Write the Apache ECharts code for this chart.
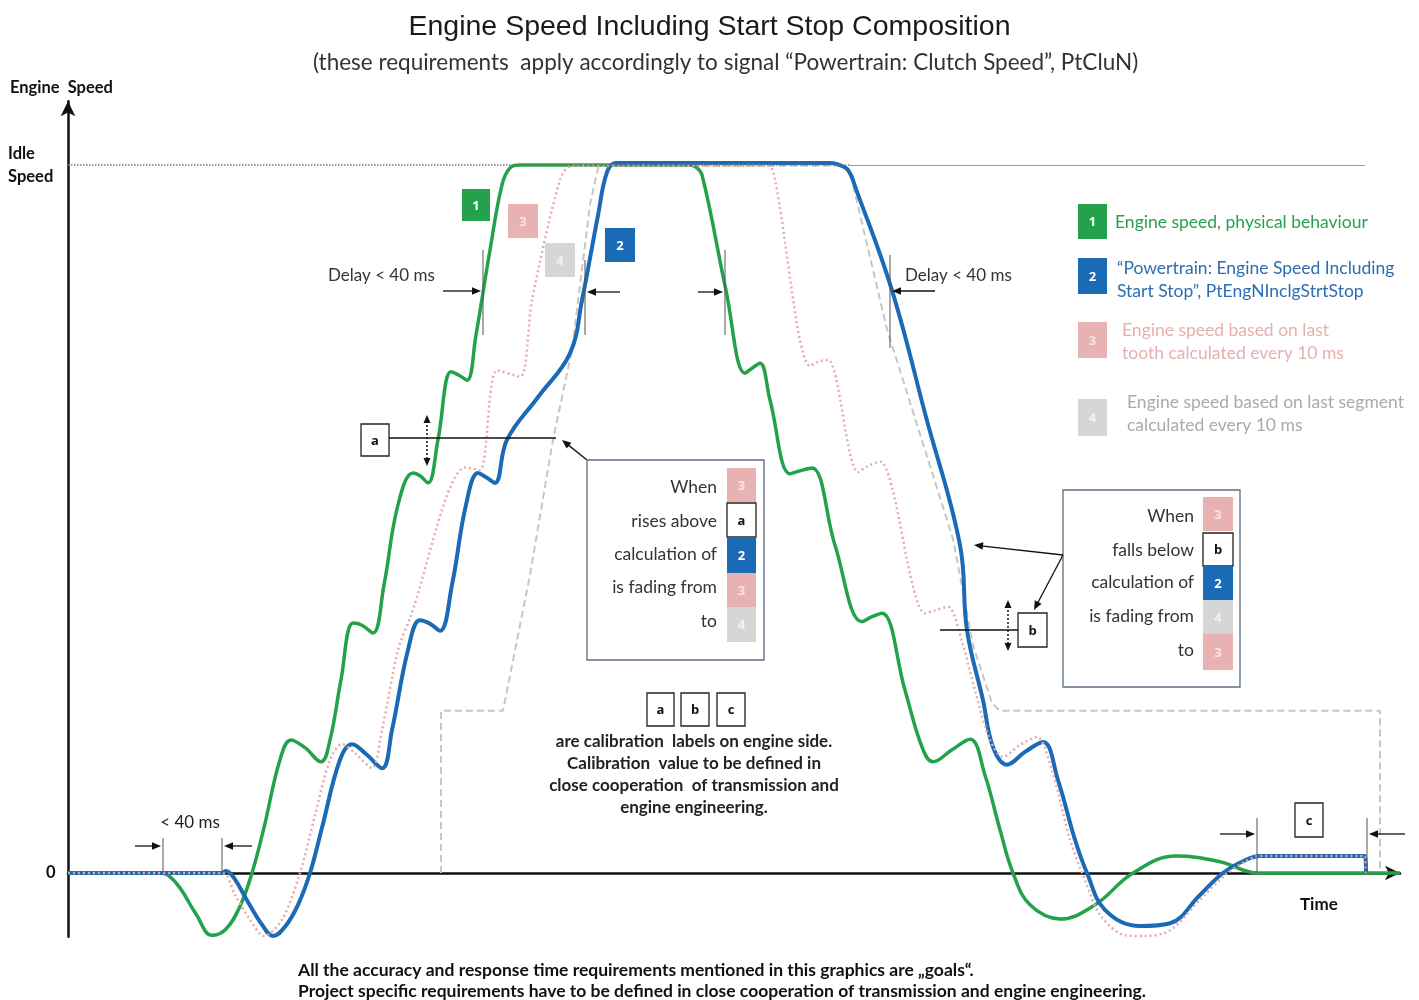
<!DOCTYPE html>
<html><head><meta charset="utf-8">
<script src="https://cdn.jsdelivr.net/npm/echarts@6/dist/echarts.min.js"></script>
<style>html,body{margin:0;padding:0;background:#fff}#c{width:1419px;height:1000px}</style>
</head><body><div id="c"></div>
<script>
// ---------- DATA (x: time in ms, y: engine speed in % of idle speed) ----------
const seriesNames = ['1', '2', '3', '4'];
const legendLabels = [
  ['Engine speed, physical behaviour'],
  ['\u201cPowertrain: Engine Speed Including', 'Start Stop\u201d, PtEngNInclgStrtStop'],
  ['Engine speed based on last', 'tooth calculated every 10 ms'],
  ['Engine speed based on last segment', 'calculated every 10 ms']
];
const yTickValues = [0, 100];
const yTickLabels = ['0', 'Idle\nSpeed'];
const idleSpeed = 100;

const greenPhysical = [
  [0,0],[36.8,0],[40,-0.3],[44.8,-2.1],[51.2,-5.8],[57.6,-8.8],[63.2,-7.9],[68.8,-4.7],[73.6,0],[78.4,6.4],
  [84.8,16.0],[89.2,18.8],[94.8,17.7],[101.2,15.7],[104.8,18.8],[109.2,27.3],[114,35.3],[117.6,35.0],[122,33.9],
  [126.4,40.7],[132,52.0],[138,56.5],[140.8,56.1],[144,55.1],[148,61.2],[153.2,70.8],[156.4,70.3],
  [159.6,69.6],[163.2,76.0],[168.8,88.0],[173.6,97.2],[176.8,99.6],[180.8,100],[248,100],[250.8,99.8],[253.6,98.6],
  [263.2,82.3],[270.8,70.6],[273.6,71.3],[276.8,72.0],[280.8,66.8],[288.8,56.4],[292.8,56.8],[297.6,57.2],
  [306.8,46.3],[317.6,35.5],[321.6,36.2],[325.6,36.7],[334.8,25.8],[341.6,17.8],[346,15.7],[353.6,17.4],
  [360.8,18.9],[366.8,13.8],[372.8,6.1],[378,0],[384.8,-4.5],[396.8,-6.5],[410.8,-4.5],[426,0],
  [443.2,2.4],[460.8,1.6],[476,0],[532.8,0]
];
const blueInclStartStop = [
  [0,0],[61.6,0],[63.2,0.3],[66.4,-0.7],[72,-4.1],[77.6,-7.3],[82,-8.9],[86.8,-7.6],[92,-4.5],[96.8,0],[101.6,6.4],
  [108.8,16.0],[113.6,18.2],[119.2,16.8],[125.6,14.8],[129.6,20.2],[136,31.5],[140.8,35.7],[144.8,35.2],[148.8,34.2],
  [153.6,40.7],[159.2,52.0],[164,56.5],[167.2,55.9],[170.8,55.1],[175.6,61.2],[188.2,67.3],[200.8,73.4],[205.6,80.9],
  [212,92.9],[215.6,99.0],[219.2,100.3],[305,100.3],[308,100.1],[312,99.3],[315.2,96.6],[329.6,82.3],[343.2,64.4],[356.8,46.3],[359.6,34.3],
  [366,24.4],[370,17.8],[375.6,15.3],[382.8,17.1],[390,18.5],[396,13.1],[402.8,4.7],[407.6,0],
  [414.8,-5.2],[428.8,-7.5],[440.8,-7.1],[452.8,-3.1],[462,0],[470.8,1.8],[476.8,2.4],[516,2.4],[518.8,2.4],[519.2,0]
];
const pinkLastTooth = [
  [0,0],[61.6,0],[66.8,-3.1],[72.8,-6.6],[78.4,-8.9],[85.6,-6.6],[92.8,0],[98.8,8.2],[104.8,16.0],
  [109.6,18.2],[115.2,16.8],[121.6,14.8],[125.6,20.2],[132,31.5],[136.8,36.0],[159.2,57.3],[164.8,56.9],
  [171.6,71.0],[180.8,70.1],[185.6,80.9],[196.8,97.9],[201.6,99.9],[280,99.9],[282.8,97.9],[296.8,71.6],
  [300,72.2],[304,72.5],[316,56.6],[320,57.5],[324.8,58.1],[342.8,36.7],[346.8,37.1],[352,37.6],
  [358,32.2],[362.8,25.8],[368.8,18.8],[374,16.4],[380.8,18.1],[387.6,19.2],[393.6,14.5],[400.8,4.7],
  [406.8,-1.0],[412.8,-5.9],[422.8,-8.8],[430.8,-8.9],[440.8,-8.1],[452.8,-3.8],[462.8,-0.3],[470.8,1.6],
  [476.8,2.4],[516,2.4],[518.8,2.4],[519.2,0]
];
const grayLastSegment = [
  [149.2,0],[149.2,22.9],[174,22.9],[184.8,42.1],[194,61.2],[201.6,73.9],[208.8,94.4],[212,99.6],
  [214.8,99.9],[310.8,99.9],[312.8,99.0],[327.6,76.8],[354,47.2],[362,32.2],[369.6,24.0],[372.8,22.9],
  [524.8,22.9],[524.8,0]
];

// ---------- STYLE ----------
const GREEN = '#24a24b', BLUE = '#1a6ab6', PINK = '#e8b2b2', GRAY = '#d6d6d6';
const PINKLINE = '#e7a9a9', GRAYLINE = '#c6c6c6';
const LATO = 'Lato, "Open Sans", sans-serif';

const els = [];
function txt(x, y, s, o) {
  o = o || {};
  els.push({type: 'text', z: 100, style: {
    x: x, y: y, text: s, fill: o.color || '#333',
    fontFamily: o.family || LATO, fontSize: o.size || 17, fontWeight: o.weight || 'normal',
    textAlign: o.align || 'left', align: o.align || 'left',
    textVerticalAlign: 'middle', verticalAlign: 'middle'
  }});
}
function rect(x, y, w, h, fill, stroke, lw) {
  els.push({type: 'rect', z: 99, shape: {x: x, y: y, width: w, height: h},
    style: {fill: fill || 'none', stroke: stroke || null, lineWidth: lw || 1}});
}
function sq(x, y, w, h, fill, label, tcolor, stroke) {
  rect(x, y, w, h, fill, stroke, stroke ? 1.3 : 0);
  txt(x + w / 2, y + h / 2 + 1, label, {align: 'center', color: tcolor, weight: 'bold', size: 13, family: '"Open Sans", sans-serif'});
}
function seg(x1, y1, x2, y2, color, lw, dash) {
  els.push({type: 'line', z: 99, shape: {x1: x1, y1: y1, x2: x2, y2: y2},
    style: {stroke: color || '#222', lineWidth: lw || 1, lineDash: dash || null}});
}
function head(x1, y1, x2, y2, color, L, W) {
  const dx = x2 - x1, dy = y2 - y1, len = Math.hypot(dx, dy), ux = dx / len, uy = dy / len;
  const bx = x2 - L * ux, by = y2 - L * uy;
  els.push({type: 'polygon', z: 99, shape: {points: [[x2, y2], [bx + W * uy, by - W * ux], [bx - W * uy, by + W * ux]]},
    style: {fill: color}});
  return [bx + ux * 2, by + uy * 2];
}
function arrow(x1, y1, x2, y2, color, lw) {
  color = color || '#111';
  const b = head(x1, y1, x2, y2, color, 9, 3.8);
  seg(x1, y1, b[0], b[1], color, lw || 1.3);
}
function dblDotted(x, y1, y2) {
  head(x, y2, x, y1, '#111', 8, 3.5);
  head(x, y1, x, y2, '#111', 8, 3.5);
  seg(x, y1 + 6, x, y2 - 6, '#111', 1.5, [2, 2]);
}

// Delay annotations
txt(328, 276, 'Delay < 40 ms', {size: 17, color: '#333'});
arrow(443, 291, 481, 291);
seg(483, 250, 483, 335, '#555', 1);
seg(585, 260, 585, 335, '#555', 1);
arrow(620, 292, 587, 292);
seg(725, 250, 725, 335, '#555', 1);
arrow(698, 292, 723, 292);
txt(905, 276, 'Delay < 40 ms', {size: 17, color: '#333'});
seg(890, 255, 890, 348, '#555', 1);
arrow(935, 291, 892, 291);

// < 40 ms at start
txt(190, 823, '< 40 ms', {size: 17, color: '#222', align: 'center'});
seg(163, 838, 163, 873, '#555', 1);
seg(222, 838, 222, 873, '#555', 1);
arrow(135, 846, 161, 846);
arrow(252, 846, 224, 846);

// number boxes at the curves
sq(462, 189, 28, 32, GREEN, '1', '#fff');
sq(508, 204, 30, 34, PINK, '3', '#f8e6e6');
sq(545, 243, 30, 34, GRAY, '4', '#f2f2f2');
sq(605, 228, 30, 34, BLUE, '2', '#fff');

// a label
sq(361, 424, 28, 32, '#fff', 'a', '#111', '#222');
seg(389, 438, 556, 438, '#111', 1.3);
arrow(587, 460, 562, 440);
dblDotted(427, 415, 466);

// left info box
rect(587, 460, 177, 200, '#fff', '#5b6d84', 1.3);
const leftRows = ['When', 'rises above', 'calculation of', 'is fading from', 'to'];
const leftRowY = [487, 521, 554, 587, 621];
leftRows.forEach((s, i) => txt(717, leftRowY[i], s, {align: 'right', size: 17.5, color: '#333'}));
sq(727, 468, 29, 34, PINK, '3', '#f8e6e6');
sq(727, 503, 29, 34, '#fff', 'a', '#111', '#222');
sq(727, 537, 29, 36, BLUE, '2', '#fff');
sq(727, 573, 29, 34, PINK, '3', '#f8e6e6');
sq(727, 607, 29, 35, GRAY, '4', '#f2f2f2');

// right info box
rect(1063, 490, 177, 197, '#fff', '#5b6d84', 1.3);
const rightRows = ['When', 'falls below', 'calculation of', 'is fading from', 'to'];
const rightRowY = [516, 550, 582, 616, 650];
rightRows.forEach((s, i) => txt(1194, rightRowY[i], s, {align: 'right', size: 17.5, color: '#333'}));
sq(1203, 497, 30, 34, PINK, '3', '#f8e6e6');
sq(1203, 533, 30, 33, '#fff', 'b', '#111', '#222');
sq(1203, 566, 30, 34, BLUE, '2', '#fff');
sq(1203, 600, 30, 34, GRAY, '4', '#f2f2f2');
sq(1203, 634, 30, 36, PINK, '3', '#f8e6e6');
arrow(1063, 555, 974, 545);
arrow(1063, 555, 1034, 610);

// b label
sq(1018, 613, 29, 34, '#fff', 'b', '#111', '#222');
seg(940, 630, 1018, 630, '#111', 1.3);
dblDotted(1008, 600, 651);

// a b c calibration note
sq(647, 693, 27, 33, '#fff', 'a', '#111', '#222');
sq(681, 693, 28, 33, '#fff', 'b', '#111', '#222');
sq(717, 693, 28, 33, '#fff', 'c', '#111', '#222');
const calibLines = ['are calibration  labels on engine side.', 'Calibration  value to be defined in',
  'close cooperation  of transmission and', 'engine engineering.'];
calibLines.forEach((s, i) => txt(694, 742 + i * 22, s, {align: 'center', size: 17, weight: 'bold', color: '#222'}));

// c label
sq(1295, 803, 28, 34, '#fff', 'c', '#111', '#222');
seg(1257, 818, 1257, 873, '#555', 1);
seg(1367, 818, 1367, 873, '#555', 1);
arrow(1220, 834, 1255, 834);
arrow(1405, 834, 1369, 834);

// legend
const legendColors = [GREEN, BLUE, PINK, GRAY];
const legendTextColors = ['#2a9f4f', '#2d6db3', '#e6b0b0', '#aaaaaa'];
const legendBoxY = [[204, 35], [258, 36], [322, 36], [399, 37]];
const legendTextX = [1115, 1117, 1122, 1127];
const legendTextY = [222, 268, 330, 402];
const legendNumColor = ['#fff', '#fff', '#f8e6e6', '#f2f2f2'];
seriesNames.forEach((n, i) => {
  sq(1078, legendBoxY[i][0], 29, legendBoxY[i][1], legendColors[i], n, legendNumColor[i]);
  legendLabels[i].forEach((s, j) => txt(legendTextX[i], legendTextY[i] + j * 23, s, {size: 17.5, color: legendTextColors[i]}));
});

// axis captions and footer
txt(10, 88, 'Engine  Speed', {size: 16.5, weight: 'bold', color: '#111'});
txt(1300, 905, 'Time', {size: 17, weight: 'bold', color: '#111'});
txt(298, 970, 'All the accuracy and response time requirements mentioned in this graphics are \u201egoals\u201c.', {size: 17.5, weight: 'bold', color: '#111'});
txt(298, 991, 'Project specific requirements have to be defined in close cooperation of transmission and engine engineering.', {size: 17.5, weight: 'bold', color: '#111'});

const chart = echarts.init(document.getElementById('c'));
chart.setOption({
  backgroundColor: '#fff',
  animation: false,
  title: [
    {
      text: 'Engine Speed Including Start Stop Composition',
      left: 'center', top: 8,
      textStyle: {fontFamily: '"Liberation Sans", Arial, sans-serif', fontSize: 28.5, fontWeight: 'normal', color: '#1a1a1a'}
    },
    {
      text: '(these requirements  apply accordingly to signal \u201cPowertrain: Clutch Speed\u201d, PtCluN)',
      left: 308, top: 46,
      textStyle: {fontFamily: LATO, fontSize: 22.5, fontWeight: 'normal', color: '#333'}
    }
  ],
  grid: {left: 68, right: 19, top: 101.28, bottom: 63.28, containLabel: false},
  xAxis: {
    type: 'value', min: 0, max: 532.8,
    axisLine: {show: true, onZero: true, symbol: ['none', 'arrow'], symbolSize: [11, 15], symbolOffset: [0, 0],
      lineStyle: {color: '#111', width: 2.5}},
    axisTick: {show: false}, axisLabel: {show: false}, splitLine: {show: false}
  },
  yAxis: {
    type: 'value', min: -9, max: 109,
    axisLine: {show: true, onZero: false, symbol: ['none', 'arrow'], symbolSize: [11, 15],
      lineStyle: {color: '#111', width: 2.5}},
    axisTick: {show: false},
    splitLine: {show: false},
    axisLabel: {
      show: true, customValues: yTickValues, align: 'left', margin: 60,
      formatter: function (v) {
        const i = yTickValues.indexOf(v);
        if (i < 0) return '';
        if (v === 0) return '{z|' + yTickLabels[i] + '}';
        return yTickLabels[i].split('\n').map(s => '{i|' + s + '}').join('\n');
      },
      rich: {
        z: {fontFamily: LATO, fontWeight: 'bold', fontSize: 16.5, color: '#111', padding: [0, 0, 0, 38]},
        i: {fontFamily: LATO, fontWeight: 'bold', fontSize: 16.5, color: '#111', lineHeight: 23}
      }
    }
  },
  series: [
    {name: seriesNames[3], type: 'line', data: grayLastSegment, showSymbol: false, z: 1,
      lineStyle: {color: GRAYLINE, width: 2, type: [7, 4]}},
    {name: seriesNames[0], type: 'line', data: greenPhysical, showSymbol: false, z: 2,
      smooth: 0.4, lineStyle: {color: GREEN, width: 3.5},
      markLine: {silent: true, symbol: 'none', label: {show: false},
        data: [
          [{coord: [0, idleSpeed], lineStyle: {color: '#777', width: 1.5, type: [1.5, 1.5]}}, {coord: [312.8, idleSpeed]}],
          [{coord: [312.8, idleSpeed], lineStyle: {color: '#999', width: 1, type: 'solid'}}, {coord: [518.8, idleSpeed]}]
        ]}},
    {name: seriesNames[1], type: 'line', data: blueInclStartStop, showSymbol: false, z: 3,
      smooth: 0.4, lineStyle: {color: BLUE, width: 4}},
    {name: seriesNames[2], type: 'line', data: pinkLastTooth, showSymbol: false, z: 4,
      smooth: 0.3, lineStyle: {color: PINKLINE, width: 2.5, type: [2, 3]}}
  ],
  graphic: els
});
</script>
</body></html>
